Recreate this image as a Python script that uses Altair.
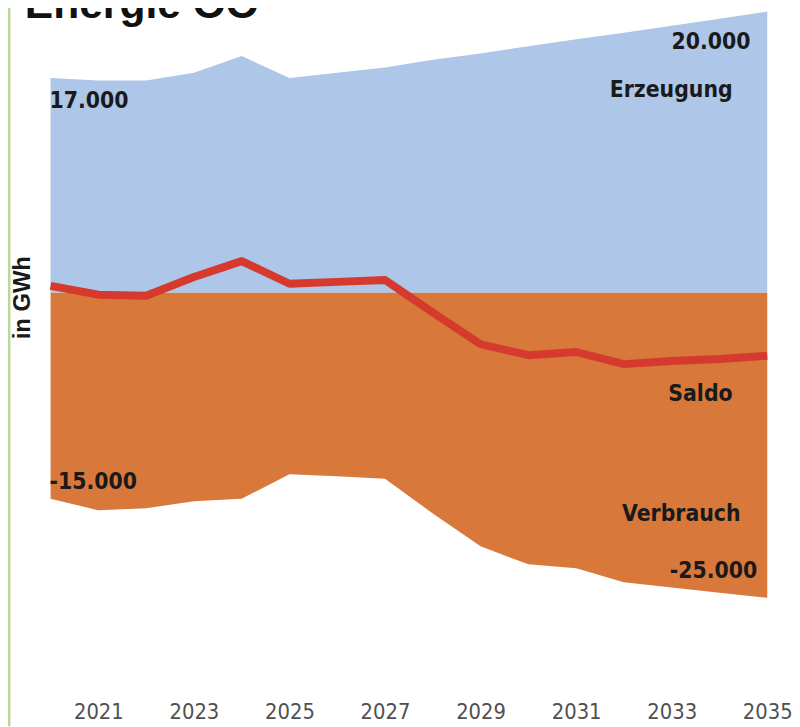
import altair as alt
import pandas as pd

# ---- data (GWh) ----
years = list(range(2020, 2036))
erzeugung = [16700, 16500, 16500, 17100, 18400, 16700, 17100, 17500,
             18100, 18600, 19150, 19700, 20200, 20750, 21300, 21850]
verbrauch = [-16000, -16900, -16750, -16200, -16000, -14100, -14250, -14450,
             -17150, -19700, -21100, -21400, -22500, -22900, -23300, -23700]
saldo = [540, -150, -230, 1230, 2460, 700, 850, 1000,
         -1540, -4000, -4850, -4600, -5540, -5300, -5150, -4900]
tick_years = [2021, 2023, 2025, 2027, 2029, 2031, 2033, 2035]
title_text = "Energie OÖ"
unit_text = "in GWh"
label_texts = ["17.000", "20.000", "Erzeugung", "Saldo", "Verbrauch", "-15.000", "-25.000"]

df = pd.DataFrame({"year": years, "erzeugung": erzeugung,
                   "verbrauch": verbrauch, "saldo": saldo, "zero": [0] * len(years)})

# ---- layout ----
W, H = 724, 700
zero_px = 284
px_per_k = 13.0
y_dom = [-(H - zero_px) / px_per_k * 1000, zero_px / px_per_k * 1000]

BLUE = "#aec6e8"
ORANGE = "#d8783b"
RED = "#d63a2e"

xs = alt.X("year:Q",
           scale=alt.Scale(domain=[2020, 2035], nice=False, zero=False),
           axis=alt.Axis(values=tick_years, format="d", title=None, domain=False,
                         ticks=False, tickSize=0, grid=False, labelFlush=False,
                         labelFont="DejaVu Sans Condensed, DejaVu Sans",
                         labelFontSize=22, labelColor="#505050",
                         labelBaseline="alphabetic", labelPadding=14))
ysc = alt.Scale(domain=y_dom, nice=False, zero=False)

base = alt.Chart(df)
area_e = base.mark_area(color=BLUE, opacity=1).encode(
    x=xs, y=alt.Y("erzeugung:Q", scale=ysc, axis=None), y2="zero:Q")
area_v = base.mark_area(color=ORANGE, opacity=1).encode(
    x=xs, y=alt.Y("verbrauch:Q", scale=ysc, axis=None), y2="zero:Q")
line_s = base.mark_line(color=RED, strokeWidth=8, strokeJoin="round").encode(
    x=xs, y=alt.Y("saldo:Q", scale=ysc, axis=None))

one = alt.Data(values=[{"k": 1}])
LBL_FONT = "DejaVu Sans Condensed, DejaVu Sans"


def lbl(text, x, y, align):
    return alt.Chart(one).mark_text(
        font=LBL_FONT, fontWeight="bold", fontSize=23, color="#1a1a1a",
        align=align, baseline="alphabetic").encode(
        x=alt.value(x), y=alt.value(y), text=alt.value(text))


ox, oy = 51, 8  # page position of plot origin
labels = [
    lbl(label_texts[0], 50 - ox, 105 - oy, "left"),
    lbl(label_texts[1], 758 - ox, 46 - oy, "right"),
    lbl(label_texts[2], 740 - ox, 94 - oy, "right"),
    lbl(label_texts[3], 740 - ox, 401 - oy, "right"),
    lbl(label_texts[4], 748 - ox, 523 - oy, "right"),
    lbl(label_texts[5], 50 - ox, 490 - oy, "left"),
    lbl(label_texts[6], 765 - ox, 580 - oy, "right"),
]

title = alt.Chart(one).mark_text(
    font="Liberation Sans, Arial", fontWeight="bold", fontSize=43, color="#111111",
    align="left", baseline="alphabetic").encode(
    x=alt.value(25 - ox), y=alt.value(14 - oy), text=alt.value(title_text))

unit = alt.Chart(one).mark_text(
    font="Liberation Sans, Arial", fontWeight="bold", fontSize=24, color="#1a1a1a", angle=270,
    align="center", baseline="middle").encode(
    x=alt.value(23 - ox), y=alt.value(297 - oy), text=alt.value(unit_text))

green = alt.Chart(one).mark_rule(color="#b9d99b", strokeWidth=3).encode(
    x=alt.value(9 - ox), y=alt.value(0 - oy), y2=alt.value(730 - oy))

chart = alt.layer(area_e, area_v, line_s, *labels, title, unit, green).properties(
    width=W, height=H,
    autosize=alt.AutoSizeParams(type="none"),
    padding={"left": 43, "top": 0, "right": 25, "bottom": 24},
    background="white",
).configure_view(stroke=None)

chart.save("out.html", embed_options={"renderer": "svg", "actions": False})
